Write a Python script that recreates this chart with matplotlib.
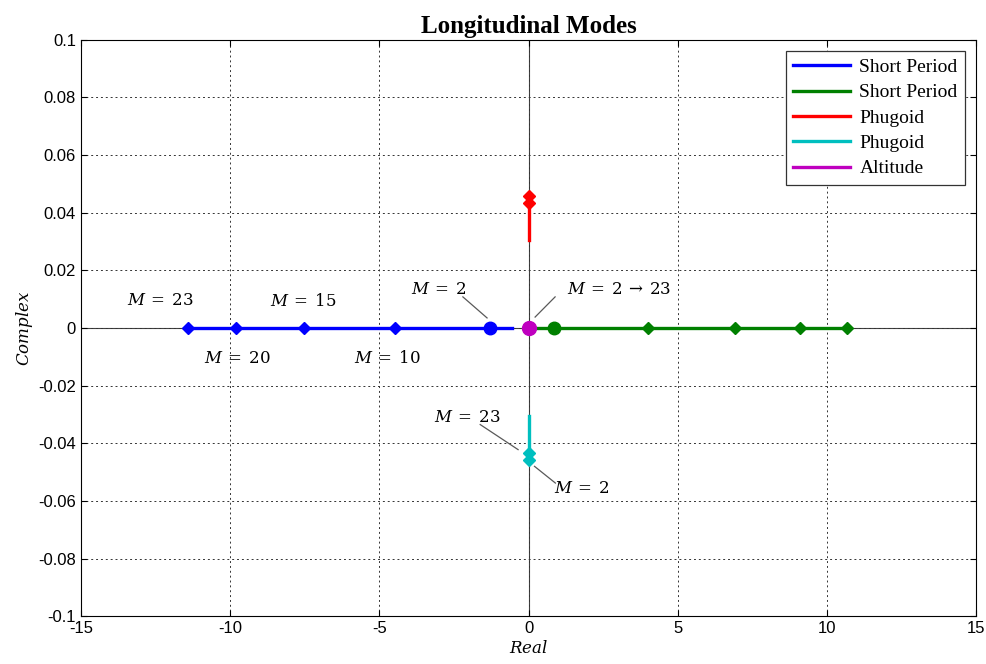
import matplotlib.pyplot as plt

plt.rcParams['mathtext.fontset'] = 'dejavuserif'
plt.rcParams['axes.unicode_minus'] = False

# root locus of the longitudinal modes as the mass parameter M varies
short_neg_real = [-0.55, -1.29, -4.48, -7.53, -9.80, -11.41]
short_neg_mark = [-1.29, -4.48, -7.53, -9.80, -11.41]
short_pos_real = [0.20, 0.85, 4.00, 6.92, 9.10, 10.68]
short_pos_mark = [0.85, 4.00, 6.92, 9.10, 10.68]
phug_up_imag = [0.0306, 0.0434, 0.0458]
phug_up_mark = [0.0434, 0.0458]
phug_dn_imag = [-0.0306, -0.0434, -0.0458]
phug_dn_mark = [-0.0434, -0.0458]
altitude_real = [0.0, 0.0]

xticks = [-15, -10, -5, 0, 5, 10, 15]
yticks = [-0.1, -0.08, -0.06, -0.04, -0.02, 0, 0.02, 0.04, 0.06, 0.08, 0.1]
ytick_labels = ['-0.1', '-0.08', '-0.06', '-0.04', '-0.02', '0', '0.02', '0.04', '0.06', '0.08', '0.1']

fig, ax = plt.subplots(figsize=(9.87, 6.64), dpi=100)
fig.subplots_adjust(left=0.082, right=0.989, top=0.94, bottom=0.072)

ax.axhline(0, color='0.25', lw=0.8, zorder=1)
ax.axvline(0, color='0.25', lw=0.8, zorder=1)

lw = 2.4
ax.plot(short_neg_real, [0] * len(short_neg_real), color='blue', lw=lw, label='Short Period', zorder=3)
ax.plot(short_pos_real, [0] * len(short_pos_real), color='green', lw=lw, label='Short Period', zorder=3)
ax.plot([0] * len(phug_up_imag), phug_up_imag, color='red', lw=lw, label='Phugoid', zorder=3)
ax.plot([0] * len(phug_dn_imag), phug_dn_imag, color='c', lw=lw, label='Phugoid', zorder=3)
ax.plot(altitude_real, [0, 0], color='m', lw=lw, label='Altitude', zorder=3)

ax.plot(short_neg_mark[1:], [0] * 4, 'D', color='blue', ms=6.5, zorder=4)
ax.plot(short_neg_mark[:1], [0], 'o', color='blue', ms=9, zorder=4)
ax.plot(short_pos_mark[1:], [0] * 4, 'D', color='green', ms=6.5, zorder=4)
ax.plot(short_pos_mark[:1], [0], 'o', color='green', ms=9, zorder=4)
ax.plot([0, 0], phug_up_mark, 'D', color='red', ms=6.5, zorder=4)
ax.plot([0, 0], phug_dn_mark, 'D', color='c', ms=6.5, zorder=4)
ax.plot(altitude_real[:1], [0], 'o', color='m', ms=10, zorder=5)

# mass labels along the locus
ann = dict(fontsize=12, ha='center', va='center')
ax.text(-12.35, 0.0097, r'$M\:=\:23$', **ann)
ax.text(-7.56, 0.0094, r'$M\:=\:15$', **ann)
ax.text(-9.77, -0.0105, r'$M\:=\:20$', **ann)
ax.text(-4.74, -0.0105, r'$M\:=\:10$', **ann)

line_kw = dict(color='0.35', lw=0.9)
ax.text(-3.0, 0.0135, r'$M\:=\:2$', **ann)
ax.plot([-2.2, -1.39], [0.0108, 0.0035], **line_kw)
ax.text(3.05, 0.0135, r'$M\:=\:2\:\rightarrow\:23$', **ann)
ax.plot([0.22, 0.89], [0.0038, 0.0108], **line_kw)
ax.text(-2.05, -0.031, r'$M\:=\:23$', **ann)
ax.plot([-1.62, -0.35], [-0.0335, -0.0422], **line_kw)
ax.text(1.8, -0.0556, r'$M\:=\:2$', **ann)
ax.plot([0.2, 0.9], [-0.0480, -0.0538], **line_kw)

ax.set_xlim(-15, 15)
ax.set_ylim(-0.1, 0.1)
ax.set_xticks(xticks)
ax.set_yticks(yticks)
ax.set_yticklabels(ytick_labels)
ax.tick_params(direction='in', labelsize=12, length=4, top=True, right=True)
for lbl in ax.get_xticklabels() + ax.get_yticklabels():
    lbl.set_family('Liberation Sans')
ax.grid(True, color='0.2', ls=(0, (2, 3)), lw=0.7)

ax.set_title('Longitudinal Modes', fontsize=18, fontweight='bold', family='Liberation Serif', pad=5)
ax.set_xlabel(r'$Real$', fontsize=12, labelpad=2)
ax.set_ylabel(r'$Complex$', fontsize=12, labelpad=2)

leg = ax.legend(loc='upper right', prop={'family': 'Liberation Serif', 'size': 14},
                fancybox=False, edgecolor='0.2', framealpha=1, handlelength=2.9,
                handletextpad=0.5, labelspacing=0.4, borderpad=0.4, borderaxespad=0.55)
leg.get_frame().set_linewidth(0.9)

fig.savefig('out.png')
